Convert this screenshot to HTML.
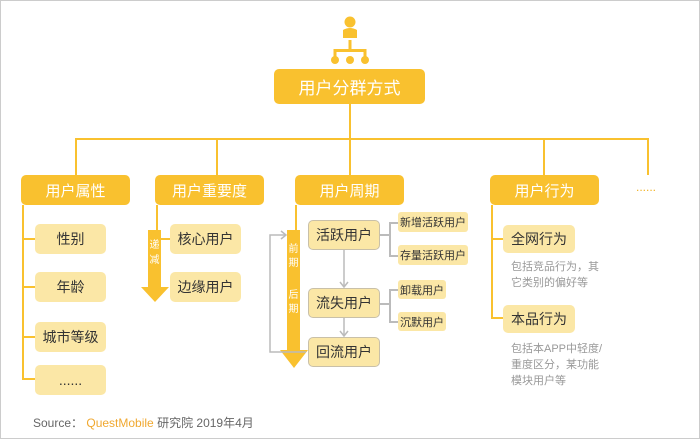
<!DOCTYPE html>
<html><head><meta charset="utf-8"><style>
*{margin:0;padding:0;box-sizing:border-box}
body{width:700px;height:439px;background:#fff;font-family:"Liberation Sans","Noto Sans CJK SC",sans-serif;position:relative;overflow:hidden}
.frame{position:absolute;left:0;top:0;width:700px;height:439px;border:1px solid #ccc}
.a{position:absolute}
.y{background:#f9c12f;color:#fff;border-radius:5px;display:flex;align-items:center;justify-content:center;font-size:15px}
.l{background:#fbe7a6;color:#333;border-radius:5px;display:flex;align-items:center;justify-content:center;font-size:14px}
.g{border:1.5px solid #c9c0a8}
.s{font-size:11px;border-radius:3px}
.t{font-size:11px;color:#999;line-height:16px}
.hl{position:absolute;background:#f9c12f}
.gl{position:absolute;background:#bbb}
</style></head><body>
<div class="frame"></div>
<!-- icon -->
<svg class="a" style="left:328px;top:14px" width="46" height="52">
<circle cx="22" cy="8" r="5.5" fill="#f9c12f"/>
<path d="M15 16 q7 -4 14 0 v8 h-14z" fill="#f9c12f"/>
<rect x="20.5" y="26" width="3" height="10" fill="#f9c12f"/>
<rect x="6" y="35" width="32" height="3" fill="#f9c12f"/>
<rect x="5.5" y="35" width="3" height="8" fill="#f9c12f"/><rect x="35.5" y="35" width="3" height="8" fill="#f9c12f"/>
<circle cx="7" cy="46" r="4" fill="#f9c12f"/><circle cx="22" cy="46" r="4" fill="#f9c12f"/><circle cx="37" cy="46" r="4" fill="#f9c12f"/>
</svg>
<div class="a y" style="left:274px;top:69px;width:151px;height:35px;font-size:17px">用户分群方式</div>
<div class="hl" style="left:349px;top:104px;width:2px;height:71px"></div>
<div class="hl" style="left:75px;top:138px;width:573px;height:2px"></div>
<div class="hl" style="left:75px;top:138px;width:2px;height:37px"></div>
<div class="hl" style="left:216px;top:138px;width:2px;height:37px"></div>
<div class="hl" style="left:543px;top:138px;width:2px;height:37px"></div>
<div class="hl" style="left:647px;top:138px;width:2px;height:37px"></div>
<div class="a y" style="left:21px;top:175px;width:109px;height:30px">用户属性</div>
<div class="a y" style="left:155px;top:175px;width:109px;height:30px">用户重要度</div>
<div class="a y" style="left:295px;top:175px;width:109px;height:30px">用户周期</div>
<div class="a y" style="left:490px;top:175px;width:109px;height:30px">用户行为</div>
<div class="a" style="left:636px;top:180px;color:#f0b020;font-size:12px">......</div>
<!-- 属性 -->
<div class="hl" style="left:22px;top:205px;width:2px;height:174px"></div>
<div class="hl" style="left:22px;top:238px;width:13px;height:2px"></div>
<div class="hl" style="left:22px;top:286px;width:13px;height:2px"></div>
<div class="hl" style="left:22px;top:336px;width:13px;height:2px"></div>
<div class="hl" style="left:22px;top:378px;width:13px;height:2px"></div>
<div class="a l" style="left:35px;top:224px;width:71px;height:30px">性别</div>
<div class="a l" style="left:35px;top:272px;width:71px;height:30px">年龄</div>
<div class="a l" style="left:35px;top:322px;width:71px;height:30px">城市等级</div>
<div class="a l" style="left:35px;top:365px;width:71px;height:30px">......</div>
<!-- 重要度 -->
<div class="hl" style="left:156px;top:205px;width:2px;height:26px"></div>
<div class="hl" style="left:160px;top:238px;width:10px;height:2px"></div>
<svg class="a" style="left:141px;top:230px" width="30" height="73"><path d="M7 0 h13 v57 h8 l-14 15 l-14 -15 h7z" fill="#f9c12f"/>
<text x="13.5" y="18" font-size="10" fill="#fff" text-anchor="middle" font-family="Noto Sans CJK SC">递</text><text x="13.5" y="33" font-size="10" fill="#fff" text-anchor="middle" font-family="Noto Sans CJK SC">减</text></svg>
<div class="a l" style="left:170px;top:224px;width:71px;height:30px">核心用户</div>
<div class="a l" style="left:170px;top:272px;width:71px;height:30px">边缘用户</div>
<!-- 周期 -->
<div class="hl" style="left:295px;top:205px;width:2px;height:26px"></div>
<svg class="a" style="left:266px;top:228px" width="45" height="142">
<path d="M21 2 h13 v120 h8 l-14 18 l-14 -18 h7z" fill="#f9c12f"/>
<text x="27.5" y="24" font-size="10" fill="#fff" text-anchor="middle" font-family="Noto Sans CJK SC">前</text>
<text x="27.5" y="38" font-size="10" fill="#fff" text-anchor="middle" font-family="Noto Sans CJK SC">期</text>
<text x="27.5" y="70" font-size="10" fill="#fff" text-anchor="middle" font-family="Noto Sans CJK SC">后</text>
<text x="27.5" y="84" font-size="10" fill="#fff" text-anchor="middle" font-family="Noto Sans CJK SC">期</text>
<path d="M40 124 H4 V7 H20" fill="none" stroke="#bbb" stroke-width="1.5"/>
<path d="M15 3 l5 4 l-5 4" fill="none" stroke="#bbb" stroke-width="1.5"/>
</svg>
<div class="a l g" style="left:308px;top:220px;width:72px;height:30px">活跃用户</div>
<div class="a l g" style="left:308px;top:288px;width:72px;height:30px">流失用户</div>
<div class="a l g" style="left:308px;top:337px;width:72px;height:30px">回流用户</div>
<svg class="a" style="left:338px;top:250px" width="14" height="90">
<path d="M6 0 V37 M2 32 l4 5 l4 -5 M6 68 V86 M2 81 l4 5 l4 -5" fill="none" stroke="#bbb" stroke-width="1.5"/></svg>
<div class="gl" style="left:380px;top:234px;width:10px;height:1.5px"></div>
<div class="gl" style="left:389px;top:222px;width:1.5px;height:33px"></div>
<div class="gl" style="left:389px;top:222px;width:9px;height:1.5px"></div>
<div class="gl" style="left:389px;top:255px;width:9px;height:1.5px"></div>
<div class="gl" style="left:380px;top:303px;width:10px;height:1.5px"></div>
<div class="gl" style="left:389px;top:289px;width:1.5px;height:32px"></div>
<div class="gl" style="left:389px;top:289px;width:9px;height:1.5px"></div>
<div class="gl" style="left:389px;top:321px;width:9px;height:1.5px"></div>
<div class="a l s" style="left:398px;top:212px;width:70px;height:20px">新增活跃用户</div>
<div class="a l s" style="left:398px;top:245px;width:70px;height:20px">存量活跃用户</div>
<div class="a l s" style="left:398px;top:280px;width:48px;height:19px">卸载用户</div>
<div class="a l s" style="left:398px;top:312px;width:48px;height:19px">沉默用户</div>
<!-- 行为 -->
<div class="hl" style="left:491px;top:205px;width:2px;height:113px"></div>
<div class="hl" style="left:491px;top:238px;width:12px;height:2px"></div>
<div class="hl" style="left:491px;top:317px;width:12px;height:2px"></div>
<div class="a l" style="left:503px;top:225px;width:72px;height:28px">全网行为</div>
<div class="a l" style="left:503px;top:305px;width:72px;height:28px">本品行为</div>
<div class="a t" style="left:511px;top:259px">包括竞品行为，其<br>它类别的偏好等</div>
<div class="a t" style="left:511px;top:341px">包括本APP中轻度/<br>重度区分，某功能<br>模块用户等</div>
<div class="a" style="left:33px;top:414px;font-size:12px;color:#666">Source： <span style="color:#f0a830">QuestMobile</span> 研究院 2019年4月</div>
</body></html>
